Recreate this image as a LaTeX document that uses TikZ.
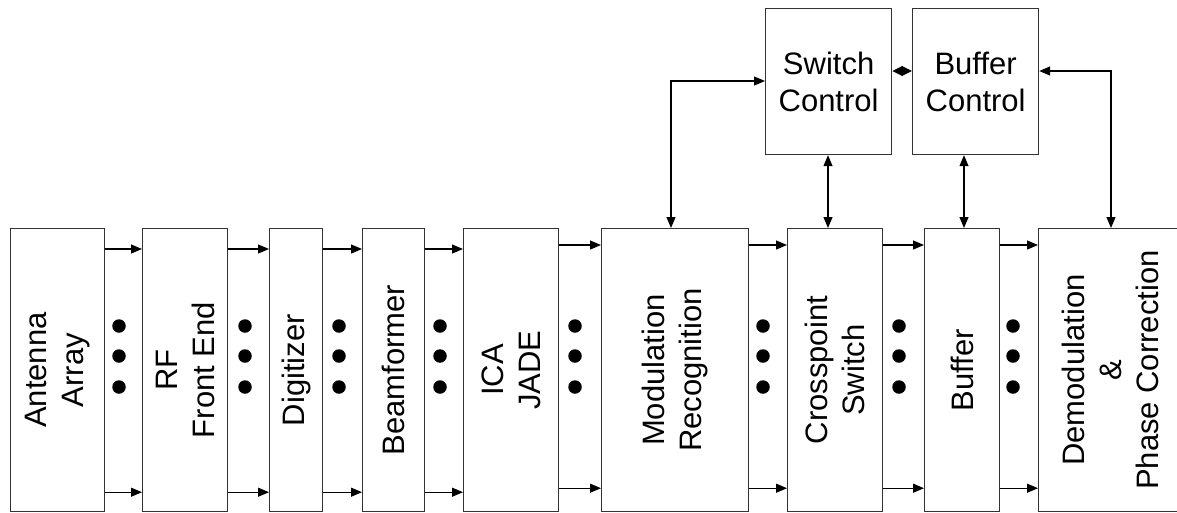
\documentclass[tikz,border=0pt]{standalone}
\usepackage{fontspec}
\setmainfont{Liberation Sans}
\usetikzlibrary{arrows.meta,calc}
\begin{document}
\begin{tikzpicture}[x=1pt,y=-1pt,
  blk/.style={draw=black!80,line width=1.2pt,rectangle,inner sep=0pt,anchor=north west},
  lbl/.style={rotate=90,align=center,inner sep=0pt,font=\fontsize{31}{37}\selectfont},
  tlbl/.style={align=center,inner sep=0pt,font=\fontsize{31}{37}\selectfont},
  arr/.style={line width=1.2pt,-{Triangle[length=11pt,width=9pt]}},
  darr/.style={line width=1.2pt,{Triangle[length=11pt,width=9pt]}-{Triangle[length=11pt,width=9pt]}},
  dia/.style={line width=1.2pt,{Triangle[length=10.5pt,width=10pt]}-{Triangle[length=10.5pt,width=10pt]}},
  dot/.style={circle,fill=black,inner sep=0pt,minimum size=13.5pt}]
\useasboundingbox (0,0) rectangle (1177,512);
\fill[white] (0,0) rectangle (1177,512);
% bottom row
\node[blk,minimum width=94pt,minimum height=283pt] (ant) at (10,228) {};
\node[blk,minimum width=85pt,minimum height=283pt] (rf) at (142,228) {};
\node[blk,minimum width=53pt,minimum height=283pt] (dig) at (269,228) {};
\node[blk,minimum width=62pt,minimum height=283pt] (beam) at (362,228) {};
\node[blk,minimum width=95pt,minimum height=283pt] (ica) at (463,228) {};
\node[blk,minimum width=147pt,minimum height=283pt] (mod) at (601,228) {};
\node[blk,minimum width=95pt,minimum height=283pt] (cross) at (787,228) {};
\node[blk,minimum width=75pt,minimum height=283pt] (buf) at (924,228) {};
\node[blk,minimum width=144pt,minimum height=283pt] (demod) at (1038,228) {};
% top row
\node[blk,minimum width=126pt,minimum height=146pt] (sw) at (765,8) {};
\node[blk,minimum width=126pt,minimum height=146pt] (bc) at (912,8) {};
% labels
\node[lbl] (tant) at (ant) {Antenna\\Array};
\node[lbl] (trf) at (rf) {RF\\Front End};
\node[lbl] (tdig) at (dig) {Digitizer};
\node[lbl] (tbeam) at (beam) {Beamformer};
\node[lbl] (tica) at (ica) {ICA\\JADE};
\node[lbl] (tmod) at (mod) {Modulation\\Recognition};
\node[lbl] (tcross) at (cross) {Crosspoint\\Switch};
\node[lbl] (tbuf) at (buf) {Buffer};
\node[lbl] (tdemod) at (demod) {Demodulation\\\&\\Phase Correction};
\node[tlbl] (tsw) at (sw) {Switch\\Control};
\node[tlbl] (tbc) at (bc) {Buffer\\Control};
% horizontal arrows
\foreach \a/\b in {ant/rf,rf/dig,dig/beam,beam/ica}{
  \draw[arr] ($(\a.north east)+(0,21)$) -- ($(\b.north west)+(0,21)$);
  \draw[arr] ($(\a.south east)+(0,-20)$) -- ($(\b.south west)+(0,-20)$);
}
\foreach \a/\b in {ica/mod,mod/cross,cross/buf,buf/demod}{
  \draw[arr] ($(\a.north east)+(0,17)$) -- ($(\b.north west)+(0,17)$);
  \draw[arr] ($(\a.south east)+(0,-24)$) -- ($(\b.south west)+(0,-24)$);
}
% dots
\foreach \x [count=\i] in {119,245,339,440,575,763,899,1013}{
  \node[dot] (d\i a) at (\x,326) {};
  \node[dot] (d\i b) at (\x,356) {};
  \node[dot] (d\i c) at (\x,387) {};
}
% control connectors
\draw[darr] ($(sw.north west)+(0,73)$) -| ($(mod.north west)+(70,0)$);
\draw[darr] ($(sw.south west)+(63,0)$) -- ($(cross.north west)+(41,0)$);
\draw[darr] ($(bc.south west)+(52,0)$) -- ($(buf.north west)+(40,0)$);
\draw[darr] ($(bc.north east)+(0,63)$) -| ($(demod.north west)+(73,0)$);
\draw[dia] ($(sw.north east)+(0,63)$) -- ($(bc.north west)+(0,63)$);
\end{tikzpicture}
\end{document}
